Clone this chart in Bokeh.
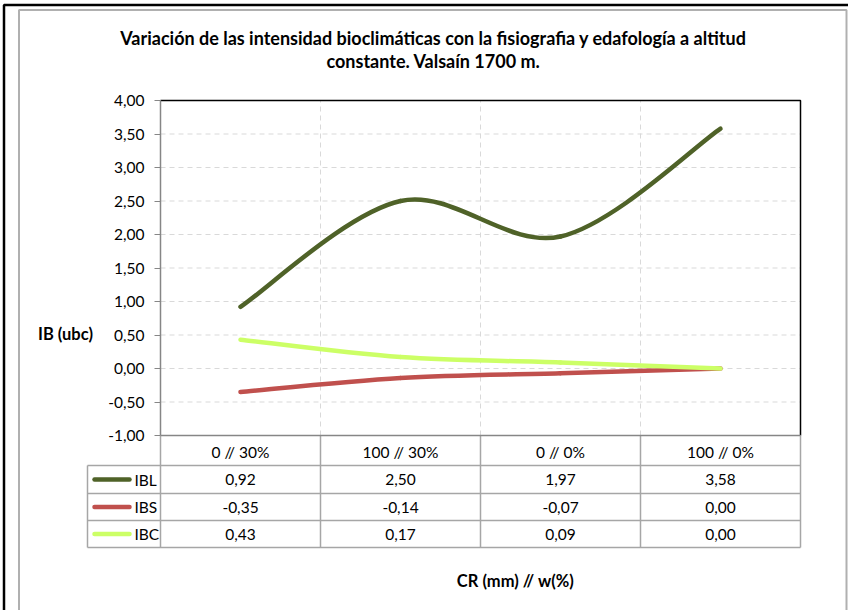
from bokeh.plotting import figure
from bokeh.models import Range1d, FixedTicker, CustomJSTickFormatter
from bokeh.core.properties import value
from bokeh.embed import file_html
from bokeh.resources import INLINE

# ---------------- data ----------------
title_lines = ["Variación de las intensidad bioclimáticas con la fisiografia y edafología a altitud",
               "constante. Valsaín 1700 m."]
categories = ["0 // 30%", "100 // 30%", "0 // 0%", "100 // 0%"]
series_names = ["IBL", "IBS", "IBC"]
ibl = [0.92, 2.50, 1.97, 3.58]
ibs = [-0.35, -0.14, -0.07, 0.00]
ibc = [0.43, 0.17, 0.09, 0.00]
y_ticks = [-1.0, -0.5, 0.0, 0.5, 1.0, 1.5, 2.0, 2.5, 3.0, 3.5, 4.0]
y_title = "IB (ubc)"
x_title = "CR (mm) // w(%)"

series_values = [ibl, ibs, ibc]
series_colors = ["#4F6228", "#C0504D", "#CCFF66"]

FONT = "Lato"
FS = "15.5px"

# ---------------- layout (canvas pixels) ----------------
W, H = 848, 610
PL, PR, PT, PB = 160, 800, 100, 435          # plot area
n = len(categories)
X0, X1 = -0.5, n - 0.5
YMIN, YMAX = y_ticks[0], y_ticks[-1]
sx = (PR - PL) / (X1 - X0)
sy = (PB - PT) / (YMAX - YMIN)

p = figure(width=W, height=H,
           x_range=Range1d(X0 - PL / sx, X1 + (W - PR) / sx),
           y_range=Range1d(YMIN - (H - PB) / sy, YMAX + PT / sy),
           output_backend="svg", toolbar_location=None, min_border=0)
p.extra_x_ranges = {"px": Range1d(0, W)}
p.extra_y_ranges = {"px": Range1d(H, 0)}
p.grid.visible = False
p.outline_line_color = None
p.background_fill_color = "white"
p.border_fill_color = "white"

GRID = "#D9D9D9"
AXIS = "#868686"
TABLE = "#A6A6A6"

# gridlines
hy = [t for t in y_ticks if YMIN < t < YMAX]
p.segment(x0=[X0] * len(hy), x1=[X1] * len(hy), y0=hy, y1=hy,
          line_color=GRID, line_width=1, line_dash="5 4")
vx = [i + 0.5 for i in range(n - 1)]
p.segment(x0=vx, x1=vx, y0=[YMIN] * len(vx), y1=[YMAX] * len(vx),
          line_color=GRID, line_width=1, line_dash="5 4")

# smoothed series (Bezier, Catmull-Rom style as in Excel smooth lines)
for vals, col in zip(series_values, series_colors):
    xs = list(range(n))
    P = list(zip(xs, vals))
    x0, y0, x1, y1, cx0, cy0, cx1, cy1 = [], [], [], [], [], [], [], []
    for i in range(n - 1):
        pm = P[max(i - 1, 0)]
        pa = P[i]
        pb = P[i + 1]
        pn = P[min(i + 2, n - 1)]
        x0.append(pa[0]); y0.append(pa[1])
        x1.append(pb[0]); y1.append(pb[1])
        cx0.append(pa[0] + (pb[0] - pm[0]) / 6); cy0.append(pa[1] + (pb[1] - pm[1]) / 6)
        cx1.append(pb[0] - (pn[0] - pa[0]) / 6); cy1.append(pb[1] - (pn[1] - pa[1]) / 6)
    p.bezier(x0=x0, y0=y0, x1=x1, y1=y1, cx0=cx0, cy0=cy0, cx1=cx1, cy1=cy1,
             line_color=col, line_width=4.5, line_cap="round")

# plot area top/right border
p.line(x=[X0, X1, X1], y=[YMAX, YMAX, YMIN], line_color="black", line_width=1.5)

# y axis
yax = p.yaxis[0]
yax.fixed_location = X0
yax.bounds = (YMIN, YMAX)
yax.ticker = FixedTicker(ticks=y_ticks, minor_ticks=[])
yax.formatter = CustomJSTickFormatter(code="return tick.toFixed(2).replace('.', ',');")
yax.axis_line_color = AXIS
yax.axis_line_width = 1.5
yax.major_tick_line_color = AXIS
yax.major_tick_out = 6
yax.major_tick_in = 0
yax.minor_tick_line_color = None
yax.major_label_standoff = 10
yax.major_label_text_font = FONT
yax.major_label_text_font_size = FS
yax.major_label_text_color = "black"

# x axis (category labels = table header)
xax = p.xaxis[0]
xax.fixed_location = YMIN
xax.bounds = (X0, X1)
xax.ticker = FixedTicker(ticks=list(range(n)), minor_ticks=[])
xax.formatter = CustomJSTickFormatter(args=dict(labels=categories),
                                      code="return labels[Math.round(tick)];")
xax.axis_line_color = AXIS
xax.axis_line_width = 1.5
xax.major_tick_out = 0
xax.major_tick_in = 0
xax.minor_tick_line_color = None
xax.major_label_standoff = 7
xax.major_label_text_font = FONT
xax.major_label_text_font_size = FS
xax.major_label_text_color = "black"

# ---------------- data table ----------------
row_lines = [465, 493, 520, 547]
LEG_L = 87
p.segment(x0=[LEG_L] * len(row_lines), x1=[PR] * len(row_lines), y0=row_lines, y1=row_lines,
          x_range_name="px", y_range_name="px", line_color=TABLE, line_width=1.5)
tv = [X0] + vx + [X1]
p.segment(x0=tv, x1=tv, y0=[PB] * len(tv), y1=[row_lines[-1]] * len(tv),
          y_range_name="px", line_color=TABLE, line_width=1.5)
p.segment(x0=[LEG_L], x1=[LEG_L], y0=[row_lines[0]], y1=[row_lines[-1]],
          x_range_name="px", y_range_name="px", line_color=TABLE, line_width=1.5)

row_centers = [(row_lines[k] + row_lines[k + 1]) / 2 for k in range(len(series_names))]
for k, (name, vals, col) in enumerate(zip(series_names, series_values, series_colors)):
    yc = row_centers[k]
    p.line(x=[LEG_L + 7, LEG_L + 42], y=[yc, yc], x_range_name="px", y_range_name="px",
           line_color=col, line_width=4.5, line_cap="round")
    p.text(x=[LEG_L + 47], y=[yc], text=[name], x_range_name="px", y_range_name="px",
           text_font=value(FONT), text_font_size=FS, text_align="left",
           text_baseline="middle", text_color="black")
    p.text(x=list(range(n)), y=[yc] * n, text=[f"{v:.2f}".replace(".", ",") for v in vals],
           y_range_name="px", text_font=value(FONT), text_font_size=FS,
           text_align="center", text_baseline="middle", text_color="black")

# ---------------- titles ----------------
p.text(x=[433, 433], y=[37, 60], text=title_lines, x_range_name="px", y_range_name="px",
       text_font=value(FONT), text_font_style="bold", text_font_size="18px",
       text_align="center", text_baseline="middle", text_color="black")
p.text(x=[65], y=[333], text=[y_title], x_range_name="px", y_range_name="px",
       text_font=value(FONT), text_font_style="bold", text_font_size="16.5px",
       text_align="center", text_baseline="middle", text_color="black")
p.text(x=[515], y=[580], text=[x_title], x_range_name="px", y_range_name="px",
       text_font=value(FONT), text_font_style="bold", text_font_size="16.5px",
       text_align="center", text_baseline="middle", text_color="black")

# chart area border (grey) and sheet cell borders (black)
p.line(x=[18.5, 18.5, 846, 846], y=[H, 9.5, 9.5, H], x_range_name="px", y_range_name="px",
       line_color="#B0B0B0", line_width=2)
p.line(x=[3.5, 3.5, W], y=[H, 4.5, 4.5], x_range_name="px", y_range_name="px",
       line_color="black", line_width=2.5)

open("out.html", "w").write(file_html(p, INLINE))
